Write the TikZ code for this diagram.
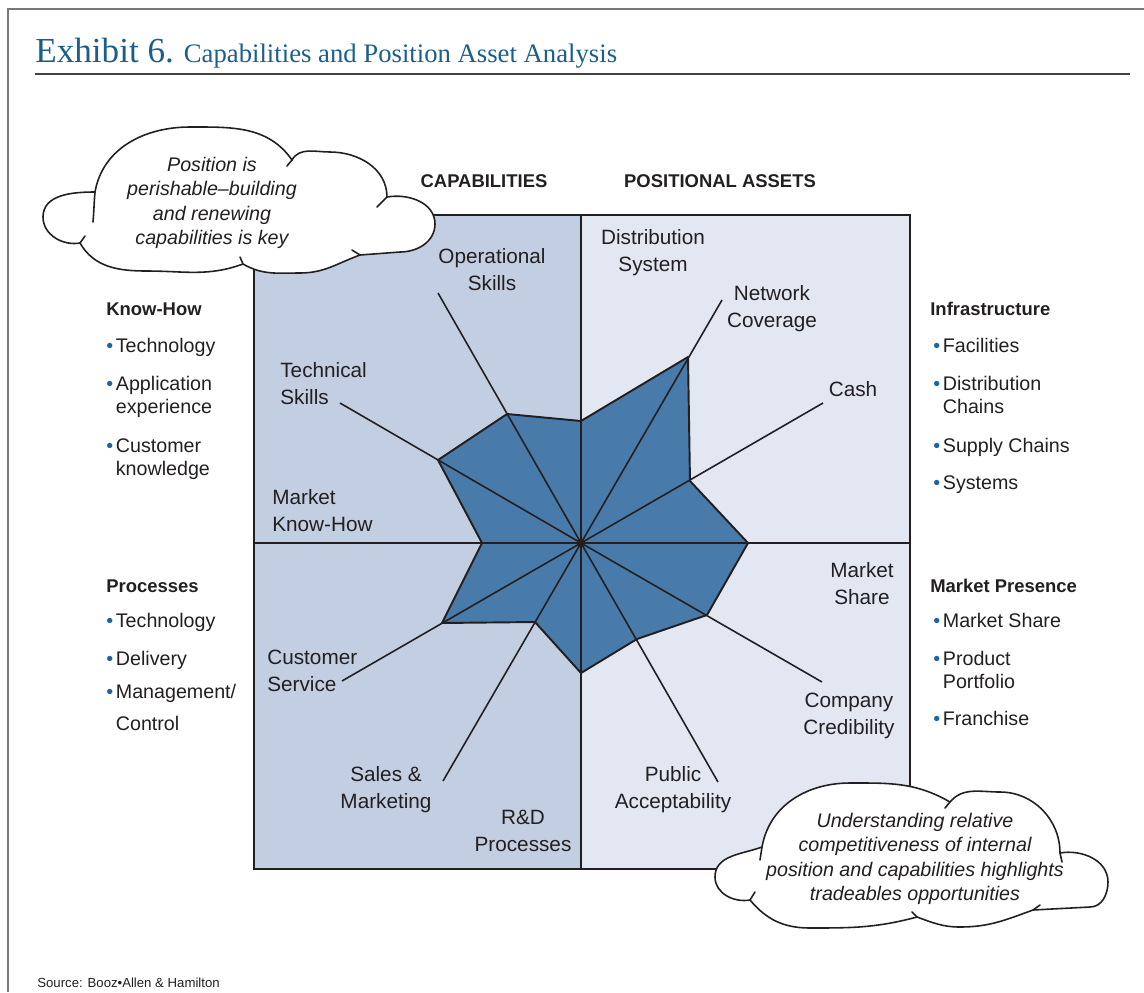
\documentclass[tikz,border=0pt]{standalone}
\usepackage{fontspec}
\setmainfont{Liberation Sans}
\newfontfamily\titlefont{Liberation Serif}
\usepackage{xcolor}
\definecolor{ink}{RGB}{35,31,32}
\definecolor{cap_fill}{RGB}{194,207,226}
\definecolor{pos_fill}{RGB}{226,231,241}
\definecolor{star_fill}{RGB}{72,122,170}
\definecolor{blue_title}{RGB}{27,94,140}
\definecolor{blue_bullet}{RGB}{30,100,160}
\definecolor{grey_frame}{RGB}{120,120,120}
\newcommand\bul{\textcolor{blue_bullet}{\textbullet}\hspace{1.5pt}}
\usetikzlibrary{calc}

\begin{document}
\begin{tikzpicture}
[
    x = 0.02cm, y = 0.02cm,
    outerframe/.style = {draw = grey_frame, line width = 1.2pt},
    titlerule/.style = {draw = ink!85, line width = 0.7pt},
    gridline/.style = {draw = ink, line width = 1.1pt},
    spoke/.style = {draw = ink, line width = 0.9pt},
    starshape/.style = {fill = star_fill, draw = ink, line width = 1.1pt, line join = round},
    axislabel/.style = {font = \fontsize{11.8}{15.3}\selectfont, text = ink, align = center, inner sep = 0pt},
    colhead/.style = {font = \bfseries\fontsize{10.5}{13}\selectfont, text = ink, inner sep = 0pt},
    listhead/.style = {font = \bfseries\fontsize{10.5}{13}\selectfont, text = ink, inner sep = 0pt, anchor = base west},
    listitem/.style = {font = \fontsize{11.2}{13}\selectfont, text = ink, align = left, inner sep = 0pt, anchor = base west},
    cloudline/.style = {draw = ink, line width = 0.9pt, fill = white, line join = round},
    hook/.style = {draw = ink, line width = 0.9pt, line cap = round},
    cloudtext/.style = {font = \itshape\fontsize{11.2}{14}\selectfont, text = ink, align = center, inner sep = 0pt}
]
\useasboundingbox (0,0) rectangle (1144,-992);
\draw[outerframe] (8,-992) -- (8,-9) -- (1144,-9);
\node[anchor = base west, inner sep = 0pt, text = blue_title] (title) at (35,-62)
    {\titlefont\fontsize{20}{24}\selectfont Exhibit 6.\hspace{-1pt} \fontsize{15.2}{18}\selectfont Capabilities and Position Asset Analysis};
\draw[titlerule] (35,-74) -- (1130,-74);

% quadrants
\fill[cap_fill] (254,-215) rectangle (581,-869);
\fill[pos_fill] (581,-215) rectangle (910,-869);

\coordinate (c) at (581,-543);
\coordinate (s1) at (581,-421);
\coordinate (s2) at (507,-414);
\coordinate (s3) at (438,-460);
\coordinate (s4) at (482,-543);
\coordinate (s5) at (442,-623);
\coordinate (s6) at (535,-622);
\coordinate (s7) at (581,-673);
\coordinate (s8) at (637,-639);
\coordinate (s9) at (707,-615);
\coordinate (s10) at (748,-543);
\coordinate (s11) at (690,-481);
\coordinate (s12) at (688,-357);
\path[starshape] (s1) -- (s2) -- (s3) -- (s4) -- (s5) -- (s6) -- (s7) -- (s8) -- (s9) -- (s10) -- (s11) -- (s12) -- cycle;

\coordinate (op) at (438,-293);
\coordinate (te) at (340,-403);
\coordinate (nw) at (722,-300);
\coordinate (ca) at (823,-403);
\coordinate (co) at (822,-682);
\coordinate (pu) at (718,-782);
\coordinate (sa) at (443,-781);
\coordinate (cu) at (342,-681);
\coordinate (top) at (581,-215);
\coordinate (bot) at (581,-869);
\coordinate (lft) at (254,-543);
\coordinate (rgt) at (910,-543);
\draw[spoke] (c) -- (op) (c) -- (te) (c) -- (nw) (c) -- (ca)
    (c) -- (co) (c) -- (pu) (c) -- (sa) (c) -- (cu);
\draw[gridline] (top) -- (bot) (lft) -- (rgt);
\draw[gridline] (254,-215) rectangle (910,-869);
\fill[ink] (c) circle (2.2pt);

\node[colhead] (caphead) at (484,-181) {CAPABILITIES};
\node[colhead] (poshead) at (720,-181) {POSITIONAL ASSETS};

\node[axislabel] (oplbl) at (492,-270) {Operational\\Skills};
\node[axislabel, anchor = west, align = left] (telbl) at (280,-384) {Technical\\Skills};
\node[axislabel, anchor = west, align = left] (mklbl) at (272,-511) {Market\\Know-How};
\node[axislabel, anchor = west, align = left] (culbl) at (267,-671) {Customer\\Service};
\node[axislabel] (salbl) at (386,-790) {Sales \&\\Marketing};
\node[axislabel] (rdlbl) at (523,-831) {R\&D\\Processes};
\node[axislabel] (dslbl) at (653,-253) {Distribution\\System};
\node[axislabel] (nwlbl) at (772,-309) {Network\\Coverage};
\node[axislabel] (calbl) at (853,-389) {Cash};
\node[axislabel] (mslbl) at (862,-584) {Market\\Share};
\node[axislabel] (colbl) at (849,-716) {Company\\Credibility};
\node[axislabel] (pulbl) at (673,-790) {Public\\Acceptability};

% clouds
\path[cloudline] (95,-192) to[out=80,in=180] (190,-127) to[out=0,in=125] (292,-160)
    to[out=60,in=180] (330,-152) to[out=0,in=90] (387,-197)
    to[out=10,in=90] (435,-224) to[out=-90,in=0] (400,-252) -- (360,-255)
    to[out=200,in=0] (300,-273) to[out=180,in=-30] (243,-264)
    to[out=200,in=0] (147,-271) to[out=180,in=-60] (80,-243)
    to[out=190,in=-90] (43,-217) to[out=90,in=180] (95,-192) -- cycle;
\draw[hook] (95,-192) to[out=-95,in=85] (93,-222) (292,-160) -- (287,-166)
    (387,-197) -- (377,-207) (360,-255) -- (352,-250) (243,-264) -- (240,-257)
    (80,-243) -- (85,-236);
\node[cloudtext] (cloudleft) at (212,-203) {Position is\\perishable--building\\and renewing\\capabilities is key};

\path[cloudline] (762,-847) to[out=80,in=180] (850,-783) to[out=0,in=150] (950,-802)
    to[out=50,in=180] (1000,-792) to[out=0,in=90] (1060,-853)
    to[out=10,in=90] (1108,-882) to[out=-90,in=0] (1090,-907) -- (1033,-910)
    to[out=200,in=0] (960,-927) to[out=180,in=-20] (917,-917)
    to[out=195,in=0] (810,-928) to[out=180,in=-50] (750,-900)
    to[out=190,in=-90] (715,-877) to[out=90,in=200] (762,-847) -- cycle;
\draw[hook] (762,-847) -- (760,-860) (950,-802) -- (945,-808) (1060,-853) -- (1062,-862)
    (1033,-910) -- (1040,-905) (917,-917) -- (912,-912) (750,-900) -- (755,-892);
\node[cloudtext] (cloudright) at (915,-859) {Understanding relative\\competitiveness of internal\\position and capabilities highlights\\tradeables opportunities};

% side lists (base = last line)
\node[listhead] (knowhow) at (106,-315) {Know-How};
\node[listitem] (kh1) at (106,-352) {\bul Technology};
\node[listitem] (kh2) at (106,-413) {\bul Application\\\phantom{\bul}experience};
\node[listitem] (kh3) at (106,-475) {\bul Customer\\\phantom{\bul}knowledge};
\node[listhead] (processes) at (106,-592) {Processes};
\node[listitem] (pr1) at (106,-627) {\bul Technology};
\node[listitem] (pr2) at (106,-665) {\bul Delivery};
\node[listitem] (pr3) at (106,-730) {\bul Management/\\[5pt]\phantom{\bul}Control};

\node[listhead] (infra) at (930,-315) {Infrastructure};
\node[listitem] (in1) at (933,-352) {\bul Facilities};
\node[listitem] (in2) at (933,-413) {\bul Distribution\\\phantom{\bul}Chains};
\node[listitem] (in3) at (933,-452) {\bul Supply Chains};
\node[listitem] (in4) at (933,-489) {\bul Systems};
\node[listhead] (presence) at (930,-592) {Market Presence};
\node[listitem] (mp1) at (933,-627) {\bul Market Share};
\node[listitem] (mp2) at (933,-688) {\bul Product\\\phantom{\bul}Portfolio};
\node[listitem] (mp3) at (933,-725) {\bul Franchise};

\node[anchor = base west, inner sep = 0pt, text = ink, font = \fontsize{7.5}{9}\selectfont] (source) at (37,-987) {Source: Booz\textbullet Allen \& Hamilton};
\end{tikzpicture}
\end{document}
